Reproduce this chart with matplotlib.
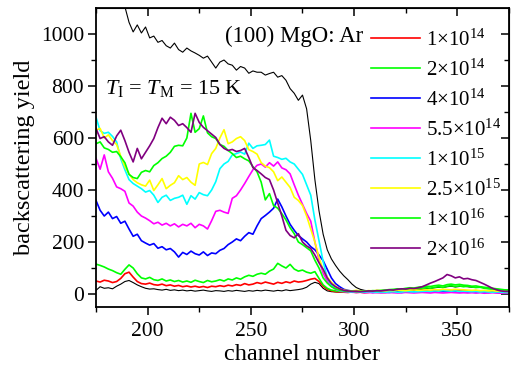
import numpy as np
import matplotlib
matplotlib.use("Agg")
import matplotlib.pyplot as plt

plt.rcParams["font.family"] = ["Liberation Serif", "DejaVu Serif"]
plt.rcParams["mathtext.fontset"] = "custom"
plt.rcParams["mathtext.rm"] = "Liberation Serif"
plt.rcParams["mathtext.it"] = "Liberation Serif:italic"

# channel grid (every second channel)
channels = np.arange(175, 376, 2)

random_spectrum = [
    1320, 1290, 1260, 1230, 1200, 1170, 1140, 1105, 1045, 1008,
    1035, 1004, 1027, 985, 992, 968, 975, 955, 946, 965,
    940, 930, 946, 935, 927, 918, 907, 915, 892, 869,
    892, 900, 885, 880, 861, 875, 869, 849, 858, 853,
    853, 842, 848, 853, 834, 840, 822, 790, 772, 745,
    765, 712, 590, 440, 320, 230, 170, 135, 110, 88,
    70, 55, 38, 25, 18, 14, 12, 11, 12, 10,
    12, 11, 13, 12, 14, 13, 15, 17, 16, 18,
    20, 22, 24, 26, 25, 28, 30, 27, 29, 30,
    28, 26, 25, 27, 24, 22, 20, 18, 17, 15,
    15]

virgin_aligned = [
    14, 28, 22, 24, 20, 30, 38, 48, 52, 44,
    35, 28, 22, 19, 20, 17, 15, 18, 14, 16,
    13, 15, 12, 14, 11, 13, 15, 12, 10, 13,
    12, 10, 13, 11, 14, 12, 10, 13, 11, 14,
    12, 15, 13, 11, 14, 12, 16, 13, 15, 17,
    20, 26, 38, 45, 40, 22, 12, 9, 8, 7,
    7, 8, 6, 7, 8, 6, 7, 8, 7, 6,
    7, 8, 9, 8, 10, 9, 11, 10, 12, 11,
    12, 13, 12, 14, 13, 15, 14, 13, 14, 12,
    12, 11, 10, 11, 9, 10, 8, 9, 8, 7,
    7]

fluence_labels = [
    r"1$\times$10$^{14}$", r"2$\times$10$^{14}$", r"4$\times$10$^{14}$",
    r"5.5$\times$10$^{14}$", r"1$\times$10$^{15}$", r"2.5$\times$10$^{15}$",
    r"1$\times$10$^{16}$", r"2$\times$10$^{16}$"]

fluence_colors = ["#ff0000", "#00ff00", "#0000ff", "#ff00ff",
                  "#00ffff", "#ffff00", "#00ff00", "#800080"]

y_1e14 = [
    50, 46, 53, 50, 44, 48, 60, 78, 84, 65,
    48, 40, 38, 42, 36, 34, 38, 32, 35, 30,
    33, 28, 31, 27, 30, 26, 29, 25, 30, 28,
    32, 29, 34, 31, 36, 33, 40, 35, 38, 44,
    40, 46, 42, 38, 45, 41, 47, 43, 50, 46,
    48, 52, 57, 60, 48, 30, 18, 12, 9, 8,
    7, 6, 8, 6, 7, 5, 6, 8, 6, 7,
    6, 8, 7, 9, 8, 10, 9, 11, 10, 12,
    11, 13, 12, 14, 12, 15, 13, 14, 12, 13,
    12, 11, 13, 10, 11, 9, 10, 8, 9, 8,
    8]

y_2e14 = [
    115, 110, 104, 96, 90, 82, 76, 95, 112, 100,
    78, 62, 58, 64, 55, 52, 58, 50, 54, 48,
    52, 46, 50, 45, 53, 48, 44, 52, 47, 50,
    55, 50, 58, 54, 62, 57, 66, 72, 68, 76,
    80, 76, 88, 96, 118, 108, 100, 114, 96, 88,
    92, 84, 80, 86, 60, 35, 22, 15, 12, 10,
    9, 10, 8, 9, 11, 10, 12, 11, 13, 12,
    14, 13, 15, 17, 16, 19, 18, 21, 20, 23,
    24, 22, 26, 28, 25, 30, 32, 29, 31, 28,
    30, 27, 25, 26, 22, 20, 18, 16, 15, 13,
    12]

y_4e14 = [
    360, 322, 300, 315, 290, 298, 272, 280, 250, 222,
    230, 205, 196, 188, 194, 176, 182, 170, 175, 162,
    142, 160, 152, 165, 155, 150, 162, 148, 158, 155,
    168, 175, 190, 200, 212, 205, 222, 236, 230, 262,
    290, 302, 315, 330, 365, 335, 300, 268, 245, 225,
    212, 200, 182, 170, 150, 128, 95, 62, 40, 28,
    18, 14, 11, 9, 8, 7, 8, 6, 7, 6,
    7, 6, 8, 7, 6, 8, 7, 9, 8, 7,
    8, 9, 7, 8, 10, 9, 8, 9, 7, 8,
    7, 8, 6, 7, 8, 6, 7, 6, 5, 6,
    6]

y_55e14 = [
    522, 480, 535, 470, 445, 412, 405, 395, 350, 338,
    315, 300, 292, 282, 270, 276, 265, 272, 262, 270,
    258, 268, 262, 272, 255, 268, 262, 250, 282, 318,
    322, 315, 310, 368, 378, 400, 425, 452, 478, 495,
    500, 488, 505, 492, 508, 485, 478, 462, 420, 380,
    345, 310, 280, 200, 130, 80, 50, 30, 18, 12,
    9, 8, 7, 6, 7, 5, 6, 5, 6, 5,
    5, 6, 5, 4, 5, 6, 5, 4, 5, 6,
    5, 4, 6, 5, 4, 5, 6, 5, 4, 5,
    4, 5, 4, 5, 3, 4, 5, 4, 3, 4,
    4]

y_1e15 = [
    680, 628, 618, 622, 606, 585, 520, 478, 440, 425,
    415, 405, 392, 398, 380, 352, 372, 380, 360, 368,
    372, 380, 345, 378, 365, 390, 382, 378, 400, 432,
    482, 500, 510, 535, 540, 546, 538, 580, 560, 570,
    572, 575, 592, 530, 525, 518, 522, 508, 500, 480,
    460, 420, 380, 285, 205, 125, 62, 35, 20, 14,
    11, 9, 8, 10, 8, 7, 9, 8, 7, 8,
    7, 8, 9, 7, 8, 10, 9, 8, 9, 10,
    11, 10, 12, 11, 13, 12, 11, 12, 10, 11,
    10, 9, 10, 8, 9, 8, 7, 8, 7, 6,
    6]

y_25e15 = [
    630, 637, 600, 612, 590, 575, 530, 490, 462, 440,
    428, 420, 415, 438, 398, 420, 444, 405, 418, 428,
    455, 440, 448, 430, 418, 500, 506, 498, 540, 560,
    600, 632, 578, 585, 598, 605, 590, 555, 548, 538,
    505, 492, 486, 470, 436, 450, 430, 410, 372, 360,
    340, 300, 250, 200, 140, 92, 65, 45, 30, 20,
    15, 13, 12, 14, 12, 11, 13, 12, 14, 13,
    12, 14, 13, 15, 14, 13, 15, 16, 14, 15,
    16, 15, 17, 16, 18, 17, 16, 18, 17, 16,
    15, 14, 15, 13, 14, 12, 13, 11, 12, 10,
    10]

y_1e16 = [
    578, 585, 562, 556, 545, 548, 528, 505, 460, 448,
    444, 468, 475, 470, 494, 505, 521, 530, 545, 568,
    572, 570, 600, 695, 622, 636, 685, 620, 605, 598,
    575, 568, 552, 540, 525, 530, 520, 512, 490, 470,
    430, 362, 386, 340, 330, 309, 285, 255, 232, 200,
    190, 178, 166, 130, 100, 62, 42, 28, 20, 15,
    12, 10, 11, 9, 10, 12, 11, 13, 12, 14,
    15, 17, 18, 20, 19, 22, 24, 23, 26, 28,
    30, 29, 32, 34, 31, 36, 38, 35, 37, 34,
    33, 30, 31, 28, 26, 24, 22, 20, 18, 16,
    15]

y_2e16 = [
    637, 598, 605, 585, 572, 608, 630, 590, 545, 508,
    560, 520, 545, 570, 598, 640, 676, 655, 680, 668,
    648, 655, 640, 622, 695, 660, 641, 628, 615, 602,
    575, 560, 552, 556, 548, 552, 560, 525, 486, 475,
    462, 448, 440, 400, 350, 300, 245, 225, 216, 232,
    200, 185, 175, 150, 120, 95, 62, 40, 28, 20,
    14, 12, 10, 11, 9, 10, 12, 11, 13, 12,
    14, 16, 15, 18, 20, 19, 22, 21, 24, 28,
    35, 42, 48, 55, 62, 75, 70, 62, 66, 58,
    60, 55, 52, 45, 38, 30, 22, 16, 12, 10,
    10]

fluence_series = [y_1e14, y_2e14, y_4e14, y_55e14,
                  y_1e15, y_25e15, y_1e16, y_2e16]

fig = plt.figure(figsize=(5.13, 3.69), dpi=100)
ax = fig.add_axes([0.1871, 0.168, 0.8051, 0.8103])

ax.plot(channels, random_spectrum, color="black", lw=0.8)
ax.plot(channels, virgin_aligned, color="black", lw=0.8)
for ys, col, lab in zip(fluence_series, fluence_colors, fluence_labels):
    ax.plot(channels, ys, color=col, lw=1.2, label=lab)

ax.set_xlim(175, 375)
ax.set_ylim(-50, 1100)
ax.set_xticks([200, 250, 300, 350])
ax.set_xticks([175, 225, 275, 325, 375], minor=True)
ax.set_yticks([0, 200, 400, 600, 800, 1000])
ax.set_yticks([100, 300, 500, 700, 900], minor=True)

for sp in ax.spines.values():
    sp.set_linewidth(1.3)

ax.tick_params(axis="both", which="major", direction="out", length=6,
               width=1.1, labelsize=15.5)
ax.tick_params(axis="x", which="major", pad=5)
ax.tick_params(axis="y", which="major", pad=2.5)
ax.tick_params(axis="both", which="minor", direction="out", length=3.5,
               width=1.0)

top = ax.secondary_xaxis("top")
top.set_xticks([200, 250, 300, 350])
top.set_xticks([175, 225, 275, 325, 375], minor=True)
top.tick_params(which="major", direction="in", length=6, width=1.1,
                labeltop=False)
top.tick_params(which="minor", direction="in", length=3.5, width=1.0)
right = ax.secondary_yaxis("right")
right.set_yticks([0, 200, 400, 600, 800, 1000])
right.set_yticks([100, 300, 500, 700, 900], minor=True)
right.tick_params(which="major", direction="in", length=6, width=1.1,
                  labelright=False)
right.tick_params(which="minor", direction="in", length=3.5, width=1.0)

ax.set_xlabel("channel number", fontsize=17.5, labelpad=2)
ax.set_ylabel("backscattering yield", fontsize=17.5, labelpad=4)

ax.text(0.646, 0.905, "(100) MgO: Ar", transform=ax.transAxes,
        fontsize=16.5, ha="right", va="center")
ax.text(0.022, 0.732, r"$T_\mathrm{I}$ = $T_\mathrm{M}$ = 15 K",
        transform=ax.transAxes, fontsize=16, ha="left", va="center")

leg = ax.legend(loc="upper left", bbox_to_anchor=(0.666, 0.928),
                frameon=False, fontsize=15, handlelength=2.35,
                handletextpad=0.3, labelspacing=0.42, borderpad=0,
                borderaxespad=0)

fig.savefig("out.png", dpi=100)
